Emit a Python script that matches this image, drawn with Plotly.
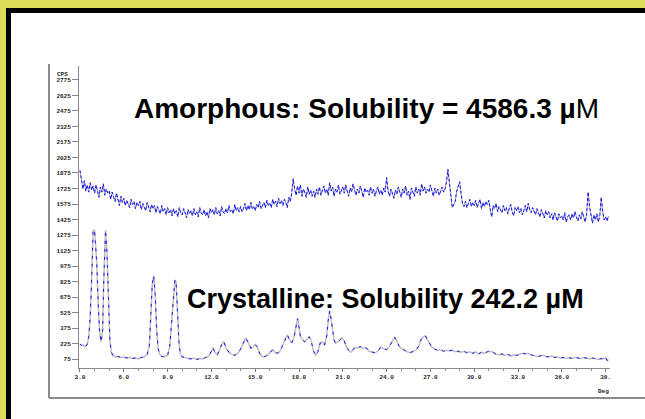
import numpy as np
import plotly.graph_objects as go

# ---------------- data ----------------
# Amorphous pattern, 2-theta grid 3.0 .. 39.2 deg (0.1 deg step)
amorph_deg = np.round(np.arange(3.0, 39.21, 0.1), 1)
amorph_cps = [
    1900, 1780, 1720, 1800, 1700, 1760, 1690, 1780, 1710, 1750,
    1680, 1760, 1700, 1640, 1740, 1690, 1770, 1660, 1720, 1680,
    1700, 1620, 1690, 1640, 1600, 1680, 1620, 1560, 1650, 1590,
    1630, 1560, 1610, 1580, 1540, 1620, 1570, 1600, 1530, 1590,
    1560, 1600, 1520, 1580, 1550, 1510, 1590, 1540, 1500, 1570,
    1530, 1560, 1490, 1550, 1510, 1480, 1560, 1500, 1530, 1470,
    1540, 1490, 1520, 1460, 1530, 1480, 1510, 1450, 1540, 1490,
    1470, 1530, 1490, 1440, 1520, 1480, 1510, 1460, 1530, 1470,
    1500, 1450, 1540, 1490, 1470, 1520, 1460, 1500, 1440, 1530,
    1490, 1520, 1470, 1540, 1480, 1510, 1460, 1550, 1500, 1480,
    1530, 1490, 1560, 1500, 1520, 1480, 1570, 1510, 1540, 1500,
    1550, 1500, 1530, 1580, 1510, 1560, 1520, 1590, 1530, 1550,
    1510, 1570, 1540, 1600, 1530, 1560, 1590, 1540, 1610, 1560,
    1580, 1540, 1620, 1570, 1600, 1550, 1630, 1580, 1610, 1560,
    1620, 1590, 1540, 1640, 1600, 1680, 1820, 1720, 1660, 1750,
    1680, 1760, 1650, 1720, 1690, 1640, 1740, 1670, 1710, 1650,
    1700, 1640, 1720, 1670, 1740, 1660, 1700, 1750, 1680, 1720,
    1660, 1780, 1700, 1740, 1650, 1720, 1690, 1760, 1670, 1710,
    1740, 1680, 1760, 1700, 1650, 1730, 1690, 1770, 1700, 1660,
    1720, 1680, 1750, 1700, 1640, 1730, 1690, 1710, 1660, 1740,
    1680, 1720, 1650, 1700, 1740, 1670, 1710, 1660, 1730, 1690,
    1830, 1700, 1650, 1720, 1680, 1630, 1710, 1670, 1740, 1690,
    1640, 1720, 1680, 1750, 1660, 1700, 1620, 1730, 1690, 1650,
    1740, 1680, 1720, 1660, 1770, 1700, 1740, 1680, 1720, 1690,
    1760, 1700, 1650, 1730, 1680, 1720, 1660, 1700, 1740, 1690,
    1720, 1790, 1910, 1780, 1620, 1540, 1570, 1600, 1700, 1740,
    1790, 1680, 1580, 1550, 1600, 1540, 1580, 1620, 1550, 1590,
    1560, 1610, 1540, 1580, 1620, 1530, 1590, 1550, 1600, 1570,
    1610, 1520, 1450, 1560, 1530, 1580, 1500, 1550, 1520, 1490,
    1560, 1510, 1540, 1480, 1530, 1570, 1500, 1460, 1540, 1510,
    1550, 1490, 1530, 1470, 1510, 1560, 1500, 1580, 1520, 1490,
    1540, 1500, 1470, 1530, 1490, 1450, 1520, 1480, 1440, 1510,
    1470, 1500, 1440, 1480, 1420, 1490, 1450, 1410, 1480, 1440,
    1460, 1420, 1490, 1400, 1450, 1470, 1420, 1480, 1440, 1500,
    1450, 1410, 1470, 1430, 1500, 1440, 1400, 1480, 1690, 1550,
    1450, 1390, 1470, 1420, 1480, 1400, 1460, 1640, 1500, 1420,
    1450, 1410, 1460,
]

# Crystalline pattern (2-theta deg, CPS)
cryst_deg = [
    3.0, 3.1, 3.2, 3.3, 3.4, 3.5, 3.6, 3.7, 3.8, 3.9, 4.0, 4.15, 4.25, 4.35,
    4.45, 4.55, 4.62, 4.75, 4.85, 4.95, 5.05, 5.15, 5.25, 5.4, 5.6, 5.8, 6.0,
    6.2, 6.4, 6.6, 6.8, 7.0, 7.2, 7.4, 7.6, 7.75, 7.85, 7.95, 8.05, 8.15, 8.25,
    8.35, 8.45, 8.6, 8.8, 9.0, 9.15, 9.3, 9.4, 9.5, 9.58, 9.68, 9.78, 9.88,
    10.0, 10.2, 10.4, 10.6, 10.8, 11.0, 11.2, 11.4, 11.6, 11.8, 12.0, 12.1,
    12.25, 12.4, 12.55, 12.7, 12.85, 13.0, 13.2, 13.4, 13.6, 13.8, 14.0, 14.2,
    14.35, 14.5, 14.7, 14.85, 15.0, 15.15, 15.3, 15.5, 15.7, 15.9, 16.05, 16.2,
    16.35, 16.5, 16.7, 16.9, 17.05, 17.2, 17.35, 17.5, 17.65, 17.8, 17.9, 18.0,
    18.1, 18.25, 18.4, 18.55, 18.7, 18.85, 19.0, 19.15, 19.3, 19.45, 19.6,
    19.75, 19.9, 20.0, 20.1, 20.2, 20.3, 20.4, 20.5, 20.65, 20.8, 20.95, 21.1,
    21.25, 21.4, 21.55, 21.7, 21.85, 22.0, 22.2, 22.4, 22.6, 22.8, 23.0, 23.2,
    23.4, 23.6, 23.8, 24.0, 24.2, 24.4, 24.55, 24.7, 24.85, 25.0, 25.2, 25.4,
    25.6, 25.8, 26.0, 26.2, 26.35, 26.5, 26.65, 26.8, 26.95, 27.1, 27.3, 27.5,
    27.7, 27.9, 28.1, 28.3, 28.5, 28.7, 28.9, 29.1, 29.3, 29.5, 29.7, 29.9,
    30.1, 30.3, 30.5, 30.7, 30.9, 31.1, 31.3, 31.5, 31.7, 31.9, 32.1, 32.3,
    32.5, 32.7, 32.9, 33.1, 33.3, 33.5, 33.7, 33.9, 34.1, 34.3, 34.5, 34.7,
    34.9, 35.1, 35.3, 35.5, 35.7, 35.9, 36.1, 36.3, 36.5, 36.7, 36.9, 37.1,
    37.3, 37.5, 37.7, 37.9, 38.1, 38.3, 38.5, 38.7, 38.9, 39.0, 39.1, 39.2,
]
cryst_cps = [
    220, 205, 215, 195, 200, 220, 290, 480, 850, 1320, 1320, 1000, 600, 330,
    240, 350, 800, 1320, 1100, 600, 250, 140, 110, 95, 100, 90, 95,
    85, 90, 80, 85, 75, 90, 95, 120, 200, 450, 800, 880, 700, 350,
    180, 120, 100, 95, 110, 200, 450, 700, 840, 820, 500, 230, 120,
    95, 90, 80, 75, 85, 70, 80, 75, 90, 100, 150, 185,
    140, 115, 160, 215, 245, 180, 140, 120, 110, 130, 170, 240,
    280, 240, 180, 190, 215, 190, 130, 95, 100, 120, 140, 165,
    140, 130, 150, 210, 270, 310, 260, 230, 280, 400, 465, 380,
    290, 260, 240, 270, 290, 240, 150, 110, 150, 230, 240,
    210, 300, 450, 540, 460, 330, 260, 230, 240, 260, 280, 250,
    190, 160, 140, 165, 190, 180, 195, 175, 185, 150, 140, 135,
    150, 190, 175, 165, 200, 250, 285, 250, 200, 180, 160, 145,
    135, 145, 160, 200, 260, 290, 300, 260, 230, 190, 170, 160,
    165, 150, 160, 155, 160, 145, 150, 140, 150, 135, 145, 130,
    145, 125, 140, 130, 145, 150, 140, 120, 115, 125, 110, 120,
    105, 115, 110, 120, 130, 125, 130, 115, 110, 100, 105, 110,
    100, 95, 105, 90, 95, 85, 90, 80, 88, 80, 92, 85,
    78, 90, 82, 75, 85, 78, 70, 80, 75, 90, 60, 70,
]

y_tick_vals = [75, 225, 375, 525, 675, 825, 975, 1125, 1275, 1425, 1575,
               1725, 1875, 2025, 2175, 2325, 2475, 2625, 2775]
x_tick_vals = [3, 6, 9, 12, 15, 18, 21, 24, 27, 30, 33, 36, 39]
x_tick_text = ["3.0", "6.0", "9.0", "12.0", "15.0", "18.0", "21.0", "24.0",
               "27.0", "30.0", "33.0", "36.0", "39."]

amorph_label = "<b>Amorphous: Solubility = 4586.3 µ</b>M"
cryst_label = "<b>Crystalline: Solubility 242.2 µM</b>"

# ---------------- layout geometry ----------------
W, H = 645, 419
L, R, T, B = 79, 35, 66, 51
PW, PH = W - L - R, H - T - B


def px(x):
    return (x - L) / PW


def py(y):
    return (H - B - y) / PH


fig = go.Figure()

for xs, ys, gcol, gw, dash in [
        (amorph_deg, amorph_cps, "#b0b0b0", 1.0, "3px,2px"),
        (cryst_deg, cryst_cps, "#c0c0c0", 1.5, "3px,5px")]:
    fig.add_trace(go.Scatter(x=xs, y=ys, mode="lines",
                             line=dict(color=gcol, width=gw),
                             hoverinfo="skip", showlegend=False))
    fig.add_trace(go.Scatter(x=xs, y=ys, mode="lines",
                             line=dict(color="#1414ff", width=1.0, dash=dash),
                             showlegend=False))

tickfont = dict(family="Liberation Mono", size=6, color="#222", weight="bold")

fig.update_xaxes(range=[2.932, 39.30], showgrid=False, zeroline=False,
                 showline=True, linecolor="#8a8a8a", linewidth=1,
                 tickmode="array", tickvals=x_tick_vals, ticktext=x_tick_text,
                 ticks="outside", ticklen=3, tickcolor="#777", tickwidth=1,
                 tickfont=tickfont,
                 minor=dict(dtick=1, ticks="outside", ticklen=2,
                            tickcolor="#999", showgrid=False))
fig.update_yaxes(range=[-12.1, 2910.4], showgrid=False, zeroline=False,
                 showline=True, linecolor="#8a8a8a", linewidth=1,
                 tickmode="array", tickvals=y_tick_vals,
                 ticks="outside", ticklen=6, tickcolor="#888", tickwidth=1,
                 tickfont=tickfont)

# Frame: yellow paper background, black band, then white page area
shapes = [
    dict(type="rect", xref="paper", yref="paper", layer="below",
         x0=px(6), x1=px(W + 20), y0=py(H + 20), y1=py(8),
         fillcolor="#000000", line_width=0),
    dict(type="rect", xref="paper", yref="paper", layer="below",
         x0=px(11), x1=px(W + 20), y0=py(H + 20), y1=py(13),
         fillcolor="#ffffff", line_width=0),
    # grey picture edge
    dict(type="line", xref="paper", yref="paper", layer="below",
         x0=px(49), x1=px(49), y0=py(64), y1=py(398),
         line=dict(color="#8a8a8a", width=2)),
    dict(type="line", xref="paper", yref="paper", layer="below",
         x0=px(49), x1=px(W + 20), y0=py(398), y1=py(398),
         line=dict(color="#8a8a8a", width=2)),
]

annotations = [
    dict(text=amorph_label, xref="paper", yref="paper", x=px(366), y=py(108),
         showarrow=False, xanchor="center", yanchor="middle",
         font=dict(family="Liberation Sans", size=28, color="#000")),
    dict(text=cryst_label, xref="paper", yref="paper", x=px(385), y=py(299),
         showarrow=False, xanchor="center", yanchor="middle",
         font=dict(family="Liberation Sans", size=27, color="#000")),
    dict(text="<b>CPS</b>", xref="paper", yref="paper", x=px(62), y=py(74),
         showarrow=False, xanchor="center", yanchor="middle",
         font=dict(family="Liberation Mono", size=6, color="#222")),
    dict(text="<b>Deg</b>", xref="paper", yref="paper", x=px(603), y=py(391),
         showarrow=False, xanchor="center", yanchor="middle",
         font=dict(family="Liberation Mono", size=6, color="#222")),
]

fig.update_layout(width=W, height=H, margin=dict(l=L, r=R, t=T, b=B),
                  paper_bgcolor="#dbdb5a", plot_bgcolor="rgba(0,0,0,0)",
                  shapes=shapes, annotations=annotations, showlegend=False)

fig.write_html("out.html",
               config={"displayModeBar": False},
               post_script="document.body.style.margin='0px';"
                           "document.body.style.overflow='hidden';")
